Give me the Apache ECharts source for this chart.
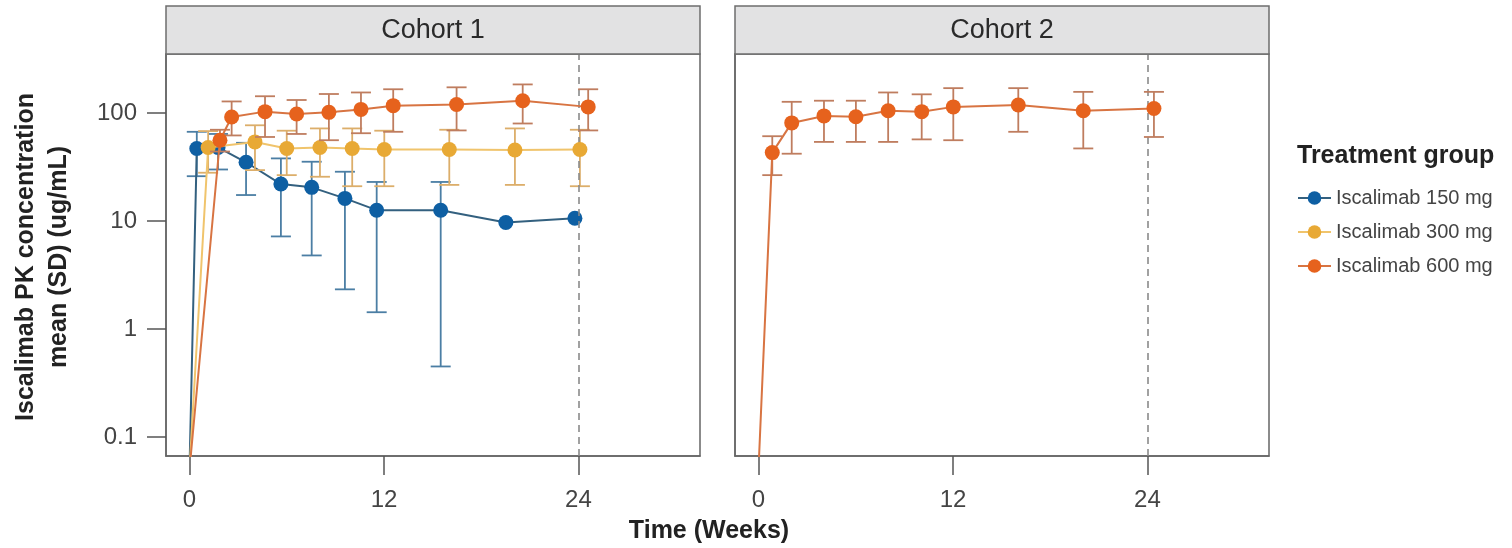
<!DOCTYPE html>
<html>
<head>
<meta charset="utf-8">
<title>Iscalimab PK concentration</title>
<script src="https://cdn.jsdelivr.net/npm/echarts@6/dist/echarts.min.js"></script>
<style>
  html, body { margin: 0; padding: 0; background: #ffffff; }
  #chart { width: 1512px; height: 548px; }
</style>
</head>
<body>
<div id="chart"></div>
<script>
// ---- data (weeks, mean and SD range in ug/mL); week 0 is pre-dose ----
const seriesNames = ['Iscalimab 150 mg', 'Iscalimab 300 mg', 'Iscalimab 600 mg'];
const cohortTitles = ['Cohort 1', 'Cohort 2'];
const xTicks = [0, 12, 24];
const yTicks = [0.1, 1, 10, 100];
const referenceWeek = 24;

// Cohort 1, 150 mg
const c1Weeks150 = [0, 0.45, 1.76, 3.49, 5.64, 7.54, 9.59, 11.55, 15.5, 19.52, 23.78];
const c1Mean150  = [0.05, 47, 48, 35, 22, 20.5, 16.2, 12.6, 12.6, 9.7, 10.6];
const c1Low150   = [null, 26, 30, 17.4, 7.2, 4.8, 2.33, 1.43, 0.45, null, null];
const c1High150  = [null, 67, 64, 53, 38, 35.4, 28.6, 23, 23, null, null];

// Cohort 1, 300 mg
const c1Weeks300 = [0, 1.15, 4.04, 6.0, 8.05, 10.04, 12.02, 16.03, 20.08, 24.09];
const c1Mean300  = [0.05, 48, 54, 47, 48, 47, 46, 46, 45.5, 46];
const c1Low300   = [null, 28, 29.6, 26.6, 25.7, 21, 21, 21.6, 21.6, 21];
const c1High300  = [null, 68, 77, 68.6, 72, 72, 68.6, 70, 72, 70];

// Cohort 1, 600 mg
const c1Weeks600 = [0, 1.88, 2.6, 4.66, 6.61, 8.6, 10.58, 12.57, 16.48, 20.56, 24.6];
const c1Mean600  = [0.05, 56, 92, 103, 98, 101.5, 108, 117, 120, 130, 114];
const c1Low600   = [null, 44, 62, 60, 64, 56, 65, 67, 69, 80, 69];
const c1High600  = [null, 70, 128, 143, 132, 150, 155, 166, 173, 184, 166];

// Cohort 2, 600 mg
const c2Weeks600 = [0, 0.85, 2.05, 4.04, 6.01, 8.0, 10.07, 12.02, 16.03, 20.04, 24.4];
const c2Mean600  = [0.05, 43, 81, 94, 92.5, 105, 103, 114, 118.6, 105, 110];
const c2Low600   = [null, 26.6, 42, 54, 54, 54, 57, 56, 67, 47, 60];
const c2High600  = [null, 61, 127, 130, 130, 155, 149, 170, 170, 157, 157];

// ---- styling ----
const FONT = '"Liberation Sans", Arial, Helvetica, sans-serif';
const markerColors = ['#0e5fa3', '#e8a935', '#e6621d'];
const lineColors   = ['#33607f', '#f0c46c', '#d87442'];
const barColors    = ['#4b7ea4', '#dcae6a', '#bf7d5f'];

const panels = [
  { left: 166, top: 54, width: 534, height: 402 },
  { left: 735, top: 54, width: 534, height: 402 }
];

function points(weeks, means) {
  return weeks.map((w, i) => [w, means[i]]);
}
function ranges(weeks, lows, highs) {
  const out = [];
  weeks.forEach((w, i) => {
    if (lows[i] != null && highs[i] != null) out.push([w, lows[i], highs[i]]);
  });
  return out;
}

function errorBarRenderer(color) {
  return function (params, api) {
    const x = api.value(0);
    const top = api.coord([x, api.value(2)]);
    const bot = api.coord([x, api.value(1)]);
    const hw = 10;
    const style = { stroke: color, lineWidth: 1.8 };
    return {
      type: 'group',
      children: [
        { type: 'line', shape: { x1: top[0], y1: top[1], x2: bot[0], y2: bot[1] }, style },
        { type: 'line', shape: { x1: top[0] - hw, y1: top[1], x2: top[0] + hw, y2: top[1] }, style },
        { type: 'line', shape: { x1: bot[0] - hw, y1: bot[1], x2: bot[0] + hw, y2: bot[1] }, style }
      ]
    };
  };
}

function groupSeries(idx, gridIdx, weeks, means, lows, highs, withRefLine) {
  const z = 2 + idx * 2;
  const line = {
    name: seriesNames[idx],
    type: 'line',
    xAxisIndex: gridIdx,
    yAxisIndex: gridIdx,
    data: points(weeks, means),
    symbol: 'circle',
    symbolSize: 15,
    showSymbol: true,
    clip: true,
    z: z + 1,
    itemStyle: { color: markerColors[idx] },
    lineStyle: { color: lineColors[idx], width: 2 },
    emphasis: { disabled: true },
    animation: false
  };
  if (withRefLine) {
    line.markLine = {
      silent: true,
      symbol: ['none', 'none'],
      label: { show: false },
      lineStyle: { color: '#8a8a8a', type: [7, 5], width: 1.6 },
      data: [{ xAxis: referenceWeek }],
      animation: false
    };
  }
  const bars = {
    name: 'sd-' + gridIdx + '-' + idx,
    type: 'custom',
    xAxisIndex: gridIdx,
    yAxisIndex: gridIdx,
    data: ranges(weeks, lows, highs),
    encode: { x: 0, y: [1, 2] },
    renderItem: errorBarRenderer(barColors[idx]),
    clip: true,
    z: z,
    silent: true,
    animation: false
  };
  return [bars, line];
}

function makeXAxis(gridIdx) {
  return {
    type: 'value',
    gridIndex: gridIdx,
    min: -1.45,
    max: 31.5,
    axisLine: { show: true, onZero: false, lineStyle: { color: '#666', width: 1.5 } },
    axisTick: { show: true, length: 19, customValues: xTicks, lineStyle: { color: '#555', width: 1.5 } },
    axisLabel: { show: true, customValues: xTicks, margin: 32, fontSize: 24, color: '#444', fontFamily: FONT },
    splitLine: { show: false },
    minorTick: { show: false }
  };
}

function makeYAxis(gridIdx, labelled) {
  return {
    type: 'log',
    logBase: 10,
    gridIndex: gridIdx,
    min: 0.0667,
    max: 352,
    axisLine: { show: true, onZero: false, lineStyle: { color: '#666', width: 1.5 } },
    axisTick: { show: labelled, length: 19, customValues: yTicks, lineStyle: { color: '#555', width: 1.5 } },
    axisLabel: {
      show: labelled, customValues: yTicks, margin: 29, fontSize: 24, color: '#444', fontFamily: FONT,
      formatter: v => String(v)
    },
    splitLine: { show: false },
    minorTick: { show: false },
    minorSplitLine: { show: false }
  };
}

const graphics = [];
panels.forEach((p, i) => {
  graphics.push({
    type: 'rect',
    shape: { x: p.left, y: 6, width: p.width, height: p.top - 6 },
    style: { fill: '#e2e2e3', stroke: '#6e6e6e', lineWidth: 1.5 },
    z: 10
  });
  graphics.push({
    type: 'text',
    x: p.left + p.width / 2,
    y: (6 + p.top) / 2 + 1,
    style: { text: cohortTitles[i], fill: '#2a2a2a', font: '27px ' + FONT, align: 'center', verticalAlign: 'middle' },
    z: 11
  });
});
graphics.push({
  type: 'text',
  x: 709,
  y: 531,
  style: { text: 'Time (Weeks)', fill: '#222', font: 'bold 25px ' + FONT, align: 'center', verticalAlign: 'middle' }
});
graphics.push({
  type: 'text',
  x: 43,
  y: 257,
  rotation: Math.PI / 2,
  style: {
    text: 'Iscalimab PK concentration\nmean (SD) (ug/mL)',
    fill: '#222', font: 'bold 25px ' + FONT, lineHeight: 33,
    align: 'center', verticalAlign: 'middle'
  }
});

const chart = echarts.init(document.getElementById('chart'), null, { renderer: 'canvas' });
chart.setOption({
  backgroundColor: '#ffffff',
  animation: false,
  textStyle: { fontFamily: FONT },
  title: {
    text: 'Treatment group',
    left: 1297,
    top: 144,
    padding: 0,
    textStyle: { fontSize: 25, fontWeight: 'bold', color: '#222', fontFamily: FONT }
  },
  legend: {
    data: seriesNames,
    orient: 'vertical',
    left: 1297,
    top: 187,
    padding: 0,
    itemWidth: 33,
    itemHeight: 17,
    itemGap: 12,
    selectedMode: false,
    textStyle: { fontSize: 20, color: '#444', fontFamily: FONT, lineHeight: 22 }
  },
  grid: panels.map(p => ({
    left: p.left, top: p.top, width: p.width, height: p.height,
    show: true, borderColor: '#666', borderWidth: 1.5, backgroundColor: '#ffffff',
    containLabel: false, outerBoundsMode: 'none'
  })),
  xAxis: [makeXAxis(0), makeXAxis(1)],
  yAxis: [makeYAxis(0, true), makeYAxis(1, false)],
  graphic: graphics,
  series: [
    ...groupSeries(0, 0, c1Weeks150, c1Mean150, c1Low150, c1High150, true),
    ...groupSeries(1, 0, c1Weeks300, c1Mean300, c1Low300, c1High300, false),
    ...groupSeries(2, 0, c1Weeks600, c1Mean600, c1Low600, c1High600, false),
    ...groupSeries(2, 1, c2Weeks600, c2Mean600, c2Low600, c2High600, true)
  ]
});
</script>
</body>
</html>
